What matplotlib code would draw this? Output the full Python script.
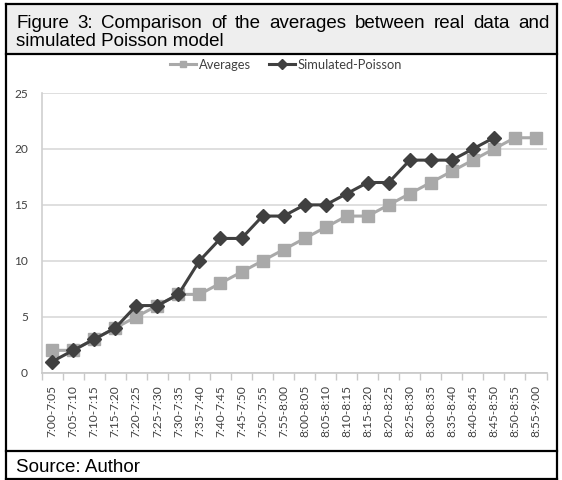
import matplotlib
matplotlib.use("Agg")
import matplotlib.pyplot as plt
from matplotlib.lines import Line2D
from matplotlib.patches import Rectangle

# Five-minute intervals between 7:00 and 9:00
intervals = [
    "7:00-7:05", "7:05-7:10", "7:10-7:15", "7:15-7:20", "7:20-7:25", "7:25-7:30",
    "7:30-7:35", "7:35-7:40", "7:40-7:45", "7:45-7:50", "7:50-7:55", "7:55-8:00",
    "8:00-8:05", "8:05-8:10", "8:10-8:15", "8:15-8:20", "8:20-8:25", "8:25-8:30",
    "8:30-8:35", "8:35-8:40", "8:40-8:45", "8:45-8:50", "8:50-8:55", "8:55-9:00",
]
averages = [2, 2, 3, 4, 5, 6, 7, 7, 8, 9, 10, 11, 12, 13, 14, 14, 15, 16, 17, 18, 19, 20, 21, 21]
simulated_poisson = [1, 2, 3, 4, 6, 6, 7, 10, 12, 12, 14, 14, 15, 15, 16, 17, 17, 19, 19, 19, 20, 21]
y_ticks = [0, 5, 10, 15, 20, 25]

title_line1 = "Figure 3: Comparison of the averages between real data and"
title_line2 = "simulated Poisson model"
source_text = "Source: Author"

W, H = 562, 480
DPI = 100
fig = plt.figure(figsize=(W / DPI, H / DPI), dpi=DPI)
fig.patch.set_facecolor("white")


def fx(px):
    return px / W


def fy(py):
    return 1 - py / H


# Frame: title band, chart panel, source band
fig.patches.append(Rectangle((fx(6), fy(54)), fx(557) - fx(6), fy(4) - fy(54),
                             transform=fig.transFigure, facecolor="#eeeeee",
                             edgecolor="none", zorder=0))
for (x0, y0, x1, y1) in [(6, 4, 557, 4), (6, 54, 557, 54), (6, 451, 557, 451),
                         (6, 479, 557, 479)]:
    fig.lines.append(Line2D([fx(x0), fx(x1)], [fy(y0), fy(y1)], transform=fig.transFigure,
                            color="black", lw=1.6, zorder=5))
for xv in (6, 557):
    fig.lines.append(Line2D([fx(xv), fx(xv)], [fy(4), fy(479)], transform=fig.transFigure,
                            color="black", lw=1.6, zorder=5))

# Plot area
ax = fig.add_axes([fx(41.7), fy(372.7), fx(546.5) - fx(41.7), fy(93) - fy(372.7)])
x = list(range(len(intervals)))
avg_color = "#a9a9a9"
sim_color = "#404040"

ax.plot(x[:len(averages)], averages, color=avg_color, lw=2.2, marker="s", ms=8.5,
        markeredgecolor=avg_color, zorder=3, label="Averages")
ax.plot(x[:len(simulated_poisson)], simulated_poisson, color=sim_color, lw=2.2, marker="D",
        ms=7, markeredgecolor=sim_color, zorder=4, label="Simulated-Poisson")

ax.set_xlim(-0.5, len(intervals) - 0.5)
ax.set_ylim(0, 25)
ax.set_yticks(y_ticks)
ax.set_yticklabels([str(v) for v in y_ticks])
ax.yaxis.grid(True, color="#d9d9d9", lw=1.2)
ax.set_axisbelow(True)

for s in ("top", "right"):
    ax.spines[s].set_visible(False)
ax.spines["left"].set_color("#d0d0d0")
ax.spines["left"].set_linewidth(1.2)
ax.spines["bottom"].set_color("#c8c8c8")
ax.spines["bottom"].set_linewidth(1.2)

# Category boundaries carry the tick marks, centres carry the labels
ax.set_xticks([i - 0.5 for i in range(len(intervals) + 1)])
ax.set_xticklabels([])
ax.set_xticks(x, minor=True)
ax.set_xticklabels(intervals, minor=True, rotation=90, fontsize=8.6, family="Lato",
                   color="#404040")
ax.tick_params(axis="x", which="major", length=5, color="#c8c8c8", width=1)
ax.tick_params(axis="x", which="minor", length=0, pad=9)
ax.tick_params(axis="y", length=0, pad=10, labelsize=8.6, labelcolor="#404040")
for lab in ax.get_yticklabels():
    lab.set_family("Lato")

leg = fig.legend(loc="center", bbox_to_anchor=(fx(286), fy(65)), ncol=2, frameon=False,
                 prop={"family": "Lato", "size": 9.3}, handlelength=2.0, columnspacing=1.4,
                 handletextpad=0.2, borderaxespad=0, borderpad=0)
for t in leg.get_texts():
    t.set_color("#404040")
for h in leg.legend_handles:
    h.set_markersize(5)

# Justified first title line, left-aligned second line
title_kw = dict(family="Liberation Sans", fontsize=13.5, color="black", va="center")
words = title_line1.split(" ")
fig.canvas.draw()
renderer = fig.canvas.get_renderer()
tmp = [fig.text(0, 0, w_, **title_kw) for w_ in words]
widths = [t.get_window_extent(renderer).width for t in tmp]
for t in tmp:
    t.remove()
left_px, right_px = 16, 550
gap = (right_px - left_px - sum(widths)) / (len(words) - 1)
pos = left_px
for w_, wd in zip(words, widths):
    fig.text(fx(pos), fy(23), w_, ha="left", **title_kw)
    pos += wd + gap
fig.text(fx(left_px), fy(41), title_line2, ha="left", **title_kw)
fig.text(fx(left_px), fy(468), source_text, ha="left", **title_kw)

fig.savefig("out.png", dpi=DPI, facecolor="white")
